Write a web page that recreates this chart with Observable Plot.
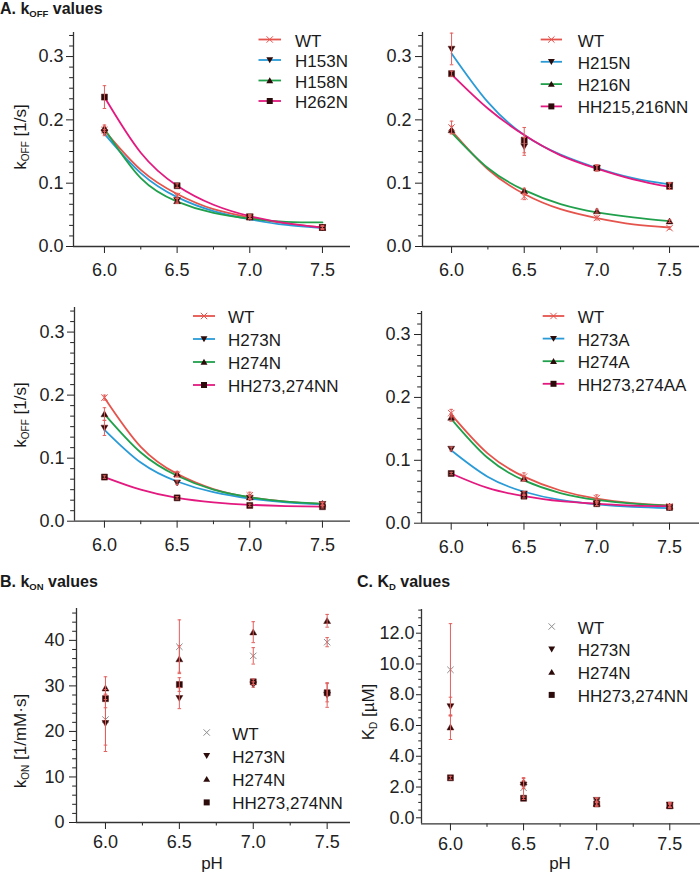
<!DOCTYPE html>
<html><head><meta charset="utf-8">
<script src="https://cdn.jsdelivr.net/npm/d3@7"></script>
<script src="https://cdn.jsdelivr.net/npm/@observablehq/plot@0.6"></script>
<style>
body{margin:0;background:#fff;}
#fig{position:relative;width:700px;height:873px;overflow:hidden;font-family:"Liberation Sans",Arial,Helvetica,sans-serif;background:#fff;}
</style></head><body><div id="fig"></div>
<script>
// ---------- data ----------
const ph = [6.0, 6.5, 7.0, 7.5];
const fitPh = [6.0, 6.25, 6.5, 6.75, 7.0, 7.25, 7.5];
const xMajor = [6.0, 6.5, 7.0, 7.5];
const xMinor = [6.25, 6.75, 7.25];
const lineColors = ["#e5544c", "#2a9bd7", "#21a04c", "#e3197f"];

// Panel A1
const a1Names = ["WT", "H153N", "H158N", "H262N"];
const a1Vals = [[0.184, 0.080, 0.047, 0.030], [0.180, 0.073, 0.046, 0.030], [0.187, 0.072, 0.046, 0.030], [0.236, 0.096, 0.047, 0.030]];
const a1Errs = [[0.006, 0.004, 0.003, 0.002], [0.005, 0.003, 0.002, 0.002], [0.005, 0.004, 0.002, 0.002], [0.018, 0.003, 0.003, 0.003]];
const a1Fits = [[0.183, 0.121, 0.083, 0.059, 0.046, 0.036, 0.030], [0.178, 0.116, 0.078, 0.056, 0.043, 0.034, 0.029], [0.186, 0.108, 0.071, 0.053, 0.044, 0.039, 0.038], [0.236, 0.148, 0.096, 0.066, 0.048, 0.037, 0.030]];

// Panel A2
const a2Names = ["WT", "H215N", "H216N", "HH215,216NN"];
const a2Vals = [[0.188, 0.079, 0.045, 0.029], [0.312, 0.158, 0.124, 0.097], [0.184, 0.088, 0.056, 0.040], [0.273, 0.168, 0.124, 0.095]];
const a2Errs = [[0.010, 0.005, 0.003, 0.002], [0.025, 0.014, 0.004, 0.004], [0.006, 0.004, 0.003, 0.002], [0.004, 0.020, 0.005, 0.005]];
const a2Fits = [[0.183, 0.122, 0.083, 0.059, 0.045, 0.035, 0.030], [0.305, 0.228, 0.176, 0.145, 0.124, 0.108, 0.098], [0.180, 0.124, 0.089, 0.067, 0.054, 0.046, 0.040], [0.272, 0.218, 0.176, 0.144, 0.123, 0.106, 0.094]];

// Panel A3
const a3Names = ["WT", "H273N", "H274N", "HH273,274NN"];
const a3Vals = [[0.196, 0.074, 0.041, 0.027], [0.148, 0.061, 0.037, 0.027], [0.170, 0.075, 0.038, 0.028], [0.070, 0.037, 0.025, 0.023]];
const a3Errs = [[0.004, 0.004, 0.005, 0.003], [0.012, 0.003, 0.003, 0.002], [0.010, 0.004, 0.003, 0.002], [0.002, 0.002, 0.002, 0.002]];
const a3Fits = [[0.196, 0.118, 0.075, 0.051, 0.038, 0.031, 0.027], [0.145, 0.093, 0.063, 0.046, 0.036, 0.030, 0.027], [0.170, 0.109, 0.072, 0.050, 0.038, 0.031, 0.028], [0.070, 0.050, 0.037, 0.030, 0.026, 0.024, 0.023]];

// Panel A4
const a4Names = ["WT", "H273A", "H274A", "HH273,274AA"];
const a4Vals = [[0.175, 0.074, 0.040, 0.027], [0.118, 0.047, 0.031, 0.025], [0.168, 0.071, 0.035, 0.027], [0.079, 0.043, 0.031, 0.025]];
const a4Errs = [[0.006, 0.006, 0.005, 0.003], [0.003, 0.003, 0.003, 0.002], [0.006, 0.004, 0.003, 0.002], [0.002, 0.003, 0.003, 0.003]];
const a4Fits = [[0.173, 0.111, 0.074, 0.052, 0.039, 0.032, 0.028], [0.116, 0.074, 0.050, 0.037, 0.030, 0.026, 0.024], [0.166, 0.104, 0.068, 0.048, 0.037, 0.031, 0.028], [0.079, 0.056, 0.043, 0.035, 0.031, 0.028, 0.027]];

// Panel B (kON)
const bNames = ["WT", "H273N", "H274N", "HH273,274NN"];
const bVals = [[22.6, 38.6, 36.6, 39.6], [21.8, 27.3, 30.3, 28.0], [29.5, 35.9, 41.8, 44.3], [27.2, 30.3, 30.9, 28.5]];
const bErrs = [[5.6, 5.9, 1.8, 1.0], [6.2, 2.3, 0.6, 2.7], [2.5, 2.9, 2.3, 1.4], [2.0, 1.5, 0.6, 2.0]];

// Panel C (KD)
const cNames = ["WT", "H273N", "H274N", "HH273,274NN"];
const cVals = [[9.62, 1.95, 1.00, 0.82], [7.24, 2.15, 1.15, 0.85], [5.89, 2.31, 0.92, 0.80], [2.60, 1.27, 0.90, 0.78]];
const cErrs = [[3.0, 0.6, 0.25, 0.15], [0.6, 0.25, 0.15, 0.15], [0.8, 0.3, 0.15, 0.12], [0.1, 0.08, 0.08, 0.1]];

// y tick labels
const aMajor = [0.0, 0.1, 0.2, 0.3];
const bMajor = [0, 10, 20, 30, 40];
const cMajor = [0, 2, 4, 6, 8, 10, 12];

// ---------- helpers ----------
const triDown = {draw(ctx, size) { const s = Math.sqrt(size) / 2; ctx.moveTo(-s * 1.15, -s * 0.9); ctx.lineTo(s * 1.15, -s * 0.9); ctx.lineTo(0, s * 1.05); ctx.closePath(); }};
const triUp = {draw(ctx, size) { const s = Math.sqrt(size) / 2; ctx.moveTo(-s * 1.15, s * 0.9); ctx.lineTo(s * 1.15, s * 0.9); ctx.lineTo(0, -s * 1.05); ctx.closePath(); }};
const sq = {draw(ctx, size) { const s = Math.sqrt(size) / 2; ctx.rect(-s, -s, 2 * s, 2 * s); }};
const xSym = {draw(ctx, size) { const s = Math.sqrt(size) * 0.45; ctx.moveTo(-s, -s); ctx.lineTo(s, s); ctx.moveTo(s, -s); ctx.lineTo(-s, s); }};
const capSym = {draw(ctx, size) { const s = Math.sqrt(size) / 2; ctx.moveTo(-s, 0); ctx.lineTo(s, 0); }};
const syms = [xSym, triDown, triUp, sq];

function tidyPoints(names, vals, errs) {
  const out = [];
  names.forEach((n, i) => ph.forEach((x, j) => out.push({series: n, x, y: vals[i][j], lo: vals[i][j] - errs[i][j], hi: vals[i][j] + errs[i][j]})));
  return out;
}
function tidyFits(names, fits) {
  const out = [];
  names.forEach((n, i) => fitPh.forEach((x, j) => out.push({series: n, x, y: fits[i][j]})));
  return out;
}

const fig = document.getElementById("fig");
const errColor = "#e2605e";
const markFill = "#2c0b0b";

function minorTicks(lo, hi, step, majorStep) {
  return d3.range(lo, hi + 1e-9, step).filter(v => Math.abs(v / majorStep - Math.round(v / majorStep)) > 1e-6);
}

function panel(c) {
  const pts = tidyPoints(c.names, c.vals, c.errs);
  const marks = [
    Plot.axisX({ticks: xMajor, tickSize: 7, tickPadding: c.xPad, tickFormat: d3.format(".1f"), label: null, fontSize: 18}),
    Plot.axisX({ticks: xMinor, tickSize: 3.5, tickFormat: () => "", label: null}),
    Plot.axisY({ticks: c.yMajor, tickSize: c.yTick, tickPadding: c.yPad, tickFormat: c.yFmt, label: null, fontSize: 18}),
    Plot.axisY({ticks: c.yMinor, tickSize: c.yTick * 0.55, tickFormat: () => "", label: null}),
    Plot.ruleX([c.xDom[0]], {stroke: "#333", strokeWidth: 1.3}),
    Plot.ruleY([c.yDom[0]], {stroke: "#333", strokeWidth: 1.3})
  ];
  if (c.fits) {
    marks.push(Plot.line(tidyFits(c.names, c.fits), {x: "x", y: "y", z: "series", stroke: "series", curve: "natural", strokeWidth: 1.8}));
  }
  c.names.forEach((n, i) => {
    const d = pts.filter(p => p.series === n);
    if (i === 0) {
      marks.push(Plot.dot(d, {x: "x", y: "y", symbol: xSym, stroke: c.wtColor, fill: "none", strokeWidth: 1, r: 4}));
    } else {
      marks.push(Plot.dot(d, {x: "x", y: "y", symbol: syms[i], fill: markFill, stroke: "#5a1212", strokeWidth: 0.5, r: 3.4}));
    }
  });
  marks.push(Plot.ruleX(pts, {x: "x", y1: "lo", y2: "hi", stroke: errColor, strokeWidth: 1}));
  marks.push(Plot.dot(pts, {x: "x", y: "lo", symbol: capSym, stroke: errColor, fill: "none", strokeWidth: 1, r: 2}));
  marks.push(Plot.dot(pts, {x: "x", y: "hi", symbol: capSym, stroke: errColor, fill: "none", strokeWidth: 1, r: 2}));
  const p = Plot.plot({
    width: c.width, height: c.height,
    marginLeft: c.mL, marginRight: c.mR, marginTop: c.mT, marginBottom: c.mB,
    x: {domain: c.xDom},
    y: {domain: c.yDom},
    color: {domain: c.names, range: lineColors},
    style: {fontFamily: "'Liberation Sans', Arial, Helvetica, sans-serif", fontSize: "18px", color: "#222", background: "transparent", overflow: "visible"},
    marks
  });
  p.style.position = "absolute";
  p.style.left = c.left + "px";
  p.style.top = c.top + "px";
  fig.appendChild(p);
}

const aMinor = minorTicks(0, 0.338, 0.1 / 6, 0.1);
const f1 = d3.format(".1f");
const f0 = d3.format("d");

panel({left: 0, top: 0, width: 350, height: 280, mL: 73, mR: 0, mT: 32, mB: 34, xDom: [5.787, 7.693], yDom: [0, 0.338],
  yMajor: aMajor, yMinor: aMinor, yFmt: f1, yTick: 7, yPad: 3, xPad: 10, names: a1Names, vals: a1Vals, errs: a1Errs, fits: a1Fits, wtColor: "#e5544c"});
panel({left: 350, top: 0, width: 350, height: 280, mL: 72, mR: 1, mT: 32, mB: 34, xDom: [5.800, 7.706], yDom: [0, 0.338],
  yMajor: aMajor, yMinor: aMinor, yFmt: f1, yTick: 7, yPad: 4, xPad: 10, names: a2Names, vals: a2Vals, errs: a2Errs, fits: a2Fits, wtColor: "#e5544c"});
panel({left: 0, top: 290, width: 350, height: 270, mL: 74, mR: 0, mT: 17, mB: 39.3, xDom: [5.794, 7.693], yDom: [0, 0.339],
  yMajor: aMajor, yMinor: minorTicks(0, 0.339, 0.1 / 6, 0.1), yFmt: f1, yTick: 7, yPad: 3, xPad: 10, names: a3Names, vals: a3Vals, errs: a3Errs, fits: a3Fits, wtColor: "#e5544c"});
panel({left: 350, top: 290, width: 350, height: 270, mL: 71, mR: 1, mT: 21, mB: 37.3, xDom: [5.796, 7.706], yDom: [0, 0.3366],
  yMajor: aMajor, yMinor: minorTicks(0, 0.3366, 0.1 / 6, 0.1), yFmt: f1, yTick: 7, yPad: 4, xPad: 10, names: a4Names, vals: a4Vals, errs: a4Errs, fits: a4Fits, wtColor: "#e5544c"});
panel({left: 0, top: 580, width: 350, height: 293, mL: 76, mR: 0, mT: 28, mB: 51, xDom: [5.804, 7.658], yDom: [0, 47],
  yMajor: bMajor, yMinor: minorTicks(0, 47, 2, 10), yFmt: f0, yTick: 7, yPad: 5, xPad: 6, names: bNames, vals: bVals, errs: bErrs, fits: null, wtColor: "#8c8c8c"});
panel({left: 350, top: 580, width: 350, height: 293, mL: 71, mR: 0, mT: 29, mB: 49.7, xDom: [5.802, 7.71], yDom: [-0.39, 13.54],
  yMajor: cMajor, yMinor: minorTicks(0, 13.5, 0.5, 2), yFmt: f1, yTick: 5, yPad: 2, xPad: 6, names: cNames, vals: cVals, errs: cErrs, fits: null, wtColor: "#8c8c8c"});

// ---------- overlay: titles, axis labels, legends ----------
const ov = d3.create("svg").attr("width", 700).attr("height", 873)
  .style("position", "absolute").style("left", "0px").style("top", "0px")
  .style("font-family", "'Liberation Sans', Arial, Helvetica, sans-serif");

function subText(g, x, y, main, sub, rest, size, weight, subSize, transform) {
  const t = g.append("text").attr("x", x).attr("y", y).attr("font-size", size).attr("font-weight", weight).attr("fill", "#1a1a1a");
  if (transform) t.attr("transform", transform);
  t.append("tspan").text(main);
  t.append("tspan").attr("font-size", subSize).attr("dy", size * 0.2).text(sub);
  t.append("tspan").attr("dy", -size * 0.2).text(rest);
  return t;
}

subText(ov, 0, 14, "A. k", "OFF", " values", 16, "bold", 9.5);
subText(ov, 0, 587, "B. k", "ON", " values", 16, "bold", 9.5);
subText(ov, 357, 587, "C. K", "D", " values", 16, "bold", 9.5);

subText(ov, 0, 0, "k", "OFF", " [1/s]", 17, "normal", 10, "translate(26,137) rotate(-90)").attr("text-anchor", "middle");
subText(ov, 0, 0, "k", "OFF", " [1/s]", 17, "normal", 10, "translate(26,415) rotate(-90)").attr("text-anchor", "middle");
subText(ov, 0, 0, "k", "ON", " [1/mM·s]", 17, "normal", 10, "translate(26,741) rotate(-90)").attr("text-anchor", "middle");
subText(ov, 0, 0, "K", "D", " [µM]", 17, "normal", 10, "translate(374,712) rotate(-90)").attr("text-anchor", "middle");

ov.append("text").attr("x", 212).attr("y", 869).attr("text-anchor", "middle").attr("font-size", 17).attr("fill", "#1a1a1a").text("pH");
ov.append("text").attr("x", 560).attr("y", 869).attr("text-anchor", "middle").attr("font-size", 17).attr("fill", "#1a1a1a").text("pH");

function legend(names, cfg) {
  names.forEach((n, i) => {
    const y = cfg.y0 + i * cfg.dy;
    const mx = cfg.lines ? (cfg.x1 + cfg.x2) / 2 : cfg.mx;
    if (cfg.lines) {
      ov.append("line").attr("x1", cfg.x1).attr("x2", cfg.x2).attr("y1", y).attr("y2", y)
        .attr("stroke", lineColors[i]).attr("stroke-width", 1.8);
    }
    const path = d3.symbol(syms[i], i === 0 ? 50 : 36)();
    const m = ov.append("path").attr("d", path).attr("transform", `translate(${mx},${y})`);
    if (i === 0) m.attr("fill", "none").attr("stroke", cfg.wtColor).attr("stroke-width", 1);
    else m.attr("fill", markFill);
    ov.append("text").attr("x", cfg.tx).attr("y", y + 1.5).attr("dominant-baseline", "central")
      .attr("font-size", 17).attr("fill", "#1a1a1a").text(n);
  });
}
legend(a1Names, {lines: true, x1: 258.5, x2: 281, tx: 295, y0: 39.5, dy: 20.5, wtColor: "#e5544c"});
legend(a2Names, {lines: true, x1: 540.7, x2: 562, tx: 577.7, y0: 39.5, dy: 22.3, wtColor: "#e5544c"});
legend(a3Names, {lines: true, x1: 193, x2: 215, tx: 228, y0: 316, dy: 23, wtColor: "#e5544c"});
legend(a4Names, {lines: true, x1: 542.7, x2: 564.3, tx: 577.7, y0: 316, dy: 22.6, wtColor: "#e5544c"});
legend(bNames, {lines: false, mx: 206.7, tx: 232.3, y0: 732.5, dy: 23.3, wtColor: "#8c8c8c"});
legend(cNames, {lines: false, mx: 551.7, tx: 577.7, y0: 626.5, dy: 22.8, wtColor: "#8c8c8c"});

fig.appendChild(ov.node());
</script>
</body></html>
